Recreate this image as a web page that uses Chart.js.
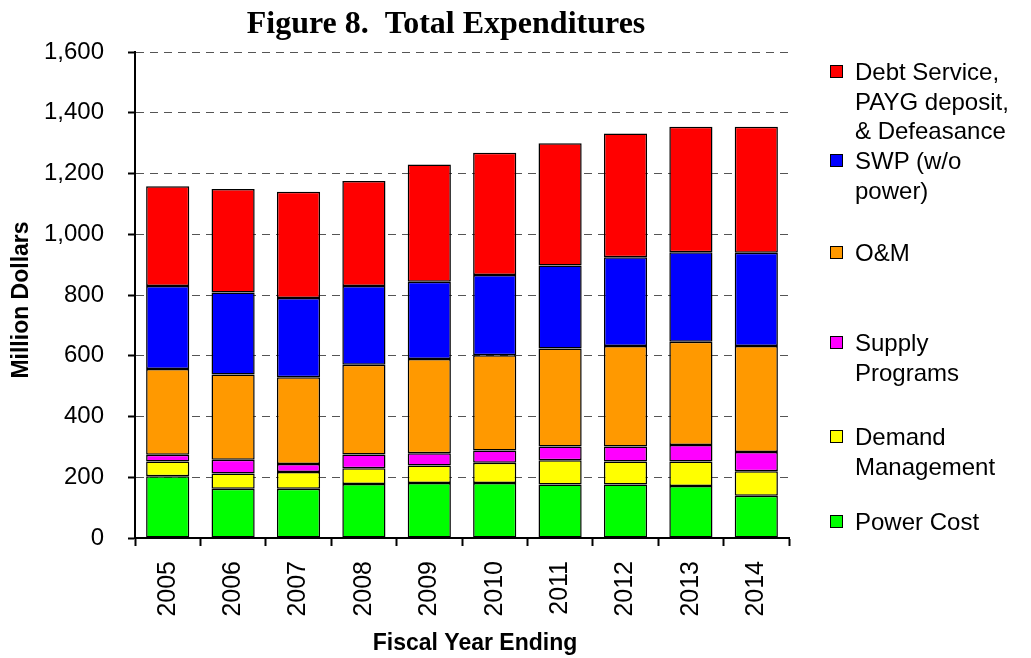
<!DOCTYPE html>
<html>
<head>
<meta charset="utf-8">
<script src="https://cdn.jsdelivr.net/npm/chart.js@4"></script>
<style>
  body { margin: 0; background: #fff; }
  #wrap { position: relative; width: 1031px; height: 658px; }
  #legend { position: absolute; left: 0; top: 0; font-family: "Liberation Sans", Arial, sans-serif; font-size: 24px; color: #000; }
  .item { position: absolute; left: 830px; }
  .box { position: absolute; left: 0; width: 11px; height: 11px; border: 1px solid #000; }
  .txt { position: absolute; left: 25px; white-space: nowrap; line-height: 29.5px; }
</style>
</head>
<body>
<div id="wrap">
  <canvas id="barChart" width="1031" height="658"></canvas>
  <div id="legend"></div>
</div>
<script>
// Dados do gráfico
var anos = ['2005', '2006', '2007', '2008', '2009', '2010', '2011', '2012', '2013', '2014'];
var powerCost = [203, 162, 162, 178, 181, 181, 176, 176, 171, 139];
var demandMgmt = [49, 50, 55, 52, 58, 67, 80, 76, 81, 81];
var supplyPrograms = [22, 46, 27, 45, 40, 40, 45, 49, 54, 63];
var oem = [282, 280, 285, 295, 310, 314, 323, 331, 340, 349];
var swp = [274, 270, 261, 260, 255, 264, 273, 292, 295, 307];
var debtService = [328, 341, 350, 345, 386, 402, 403, 408, 413, 415];
var yTicks = [0, 200, 400, 600, 800, 1000, 1200, 1400, 1600];

var series = [
    { label: 'Power Cost', data: powerCost, color: '#00ff00', legend: ['Power Cost'] },
    { label: 'Demand Management', data: demandMgmt, color: '#ffff00', legend: ['Demand', 'Management'] },
    { label: 'Supply Programs', data: supplyPrograms, color: '#ff00ff', legend: ['Supply', 'Programs'] },
    { label: 'O&M', data: oem, color: '#ff9900', legend: ['O&M'] },
    { label: 'SWP (w/o power)', data: swp, color: '#0000ff', legend: ['SWP (w/o', 'power)'] },
    { label: 'Debt Service, PAYG deposit, & Defeasance', data: debtService, color: '#ff0000', legend: ['Debt Service,', 'PAYG deposit,', '& Defeasance'] }
];

// posição vertical (centro da primeira linha) de cada item da legenda
var legendTops = [522, 437, 343, 253, 161, 72];

window.onload = function () {
    graficoBarras();
    montarLegenda();
}

// Título e títulos dos eixos desenhados por plugin (posições como no original)
var textosPlugin = {
    id: 'textos',
    afterDraw: function (chart) {
        var ctx = chart.ctx;
        var fonte = '"Liberation Sans", Arial, sans-serif';
        ctx.save();
        ctx.fillStyle = '#000';
        ctx.textAlign = 'center';
        ctx.textBaseline = 'alphabetic';
        ctx.font = 'bold 32px "Liberation Serif", "Times New Roman", serif';
        ctx.fillText('Figure 8.  Total Expenditures', 446, 33);

        ctx.font = 'bold 23px ' + fonte;
        ctx.fillText('Fiscal Year Ending', 475, 650);

        ctx.translate(22, 300);
        ctx.rotate(-Math.PI / 2);
        ctx.textBaseline = 'middle';
        ctx.fillText('Million Dollars', 0, 0);
        ctx.restore();
    }
};

function graficoBarras() {
    var ctx = document.getElementById('barChart').getContext('2d');
    var fonte = '"Liberation Sans", Arial, sans-serif';
    new Chart(ctx, {
        type: 'bar',
        data: {
            labels: anos,
            datasets: series.map(function (s) {
                return {
                    label: s.label,
                    data: s.data,
                    backgroundColor: s.color,
                    borderColor: '#000',
                    borderWidth: 1.5,
                    borderSkipped: false,
                    barPercentage: 0.66,
                    categoryPercentage: 1.0
                };
            })
        },
        options: {
            responsive: false,
            animation: false,
            layout: { padding: { left: 0, right: 242, top: 52, bottom: 0 } },
            plugins: {
                legend: { display: false },
                tooltip: { enabled: false }
            },
            scales: {
                x: {
                    stacked: true,
                    afterFit: function (axis) { axis.height = 120; },
                    grid: {
                        display: true,
                        drawOnChartArea: false,
                        drawTicks: true,
                        tickLength: 8,
                        tickColor: '#000',
                        tickWidth: 2
                    },
                    border: { display: true, color: '#000', width: 2 },
                    ticks: {
                        color: '#000',
                        font: { family: fonte, size: 25 },
                        maxRotation: 90,
                        minRotation: 90,
                        padding: 15
                    },
                    title: { display: false }
                },
                y: {
                    stacked: true,
                    min: 0,
                    max: 1600,
                    afterFit: function (axis) { axis.width = 135; },
                    afterBuildTicks: function (axis) {
                        axis.ticks = yTicks.map(function (v) { return { value: v }; });
                    },
                    grid: {
                        color: '#555',
                        lineWidth: 1,
                        tickLength: 7,
                        tickColor: '#000',
                        tickWidth: 2,
                        tickBorderDash: []
                    },
                    border: { display: true, color: '#000', width: 2, dash: [8, 6] },
                    ticks: {
                        color: '#000',
                        font: { family: fonte, size: 24 },
                        padding: 24,
                        callback: function (v) { return Number(v).toLocaleString('en-US'); }
                    },
                    title: { display: false }
                }
            }
        },
        plugins: [textosPlugin]
    });
}

function montarLegenda() {
    var leg = document.getElementById('legend');
    series.forEach(function (s, i) {
        var item = document.createElement('div');
        item.className = 'item';
        item.style.top = (legendTops[i] - 15) + 'px';
        var box = document.createElement('div');
        box.className = 'box';
        box.style.background = s.color;
        box.style.top = '8px';
        var txt = document.createElement('div');
        txt.className = 'txt';
        txt.innerHTML = s.legend.map(function (l) { return l.replace('&', '&amp;'); }).join('<br>');
        item.appendChild(box);
        item.appendChild(txt);
        leg.appendChild(item);
    });
}
</script>
</body>
</html>
